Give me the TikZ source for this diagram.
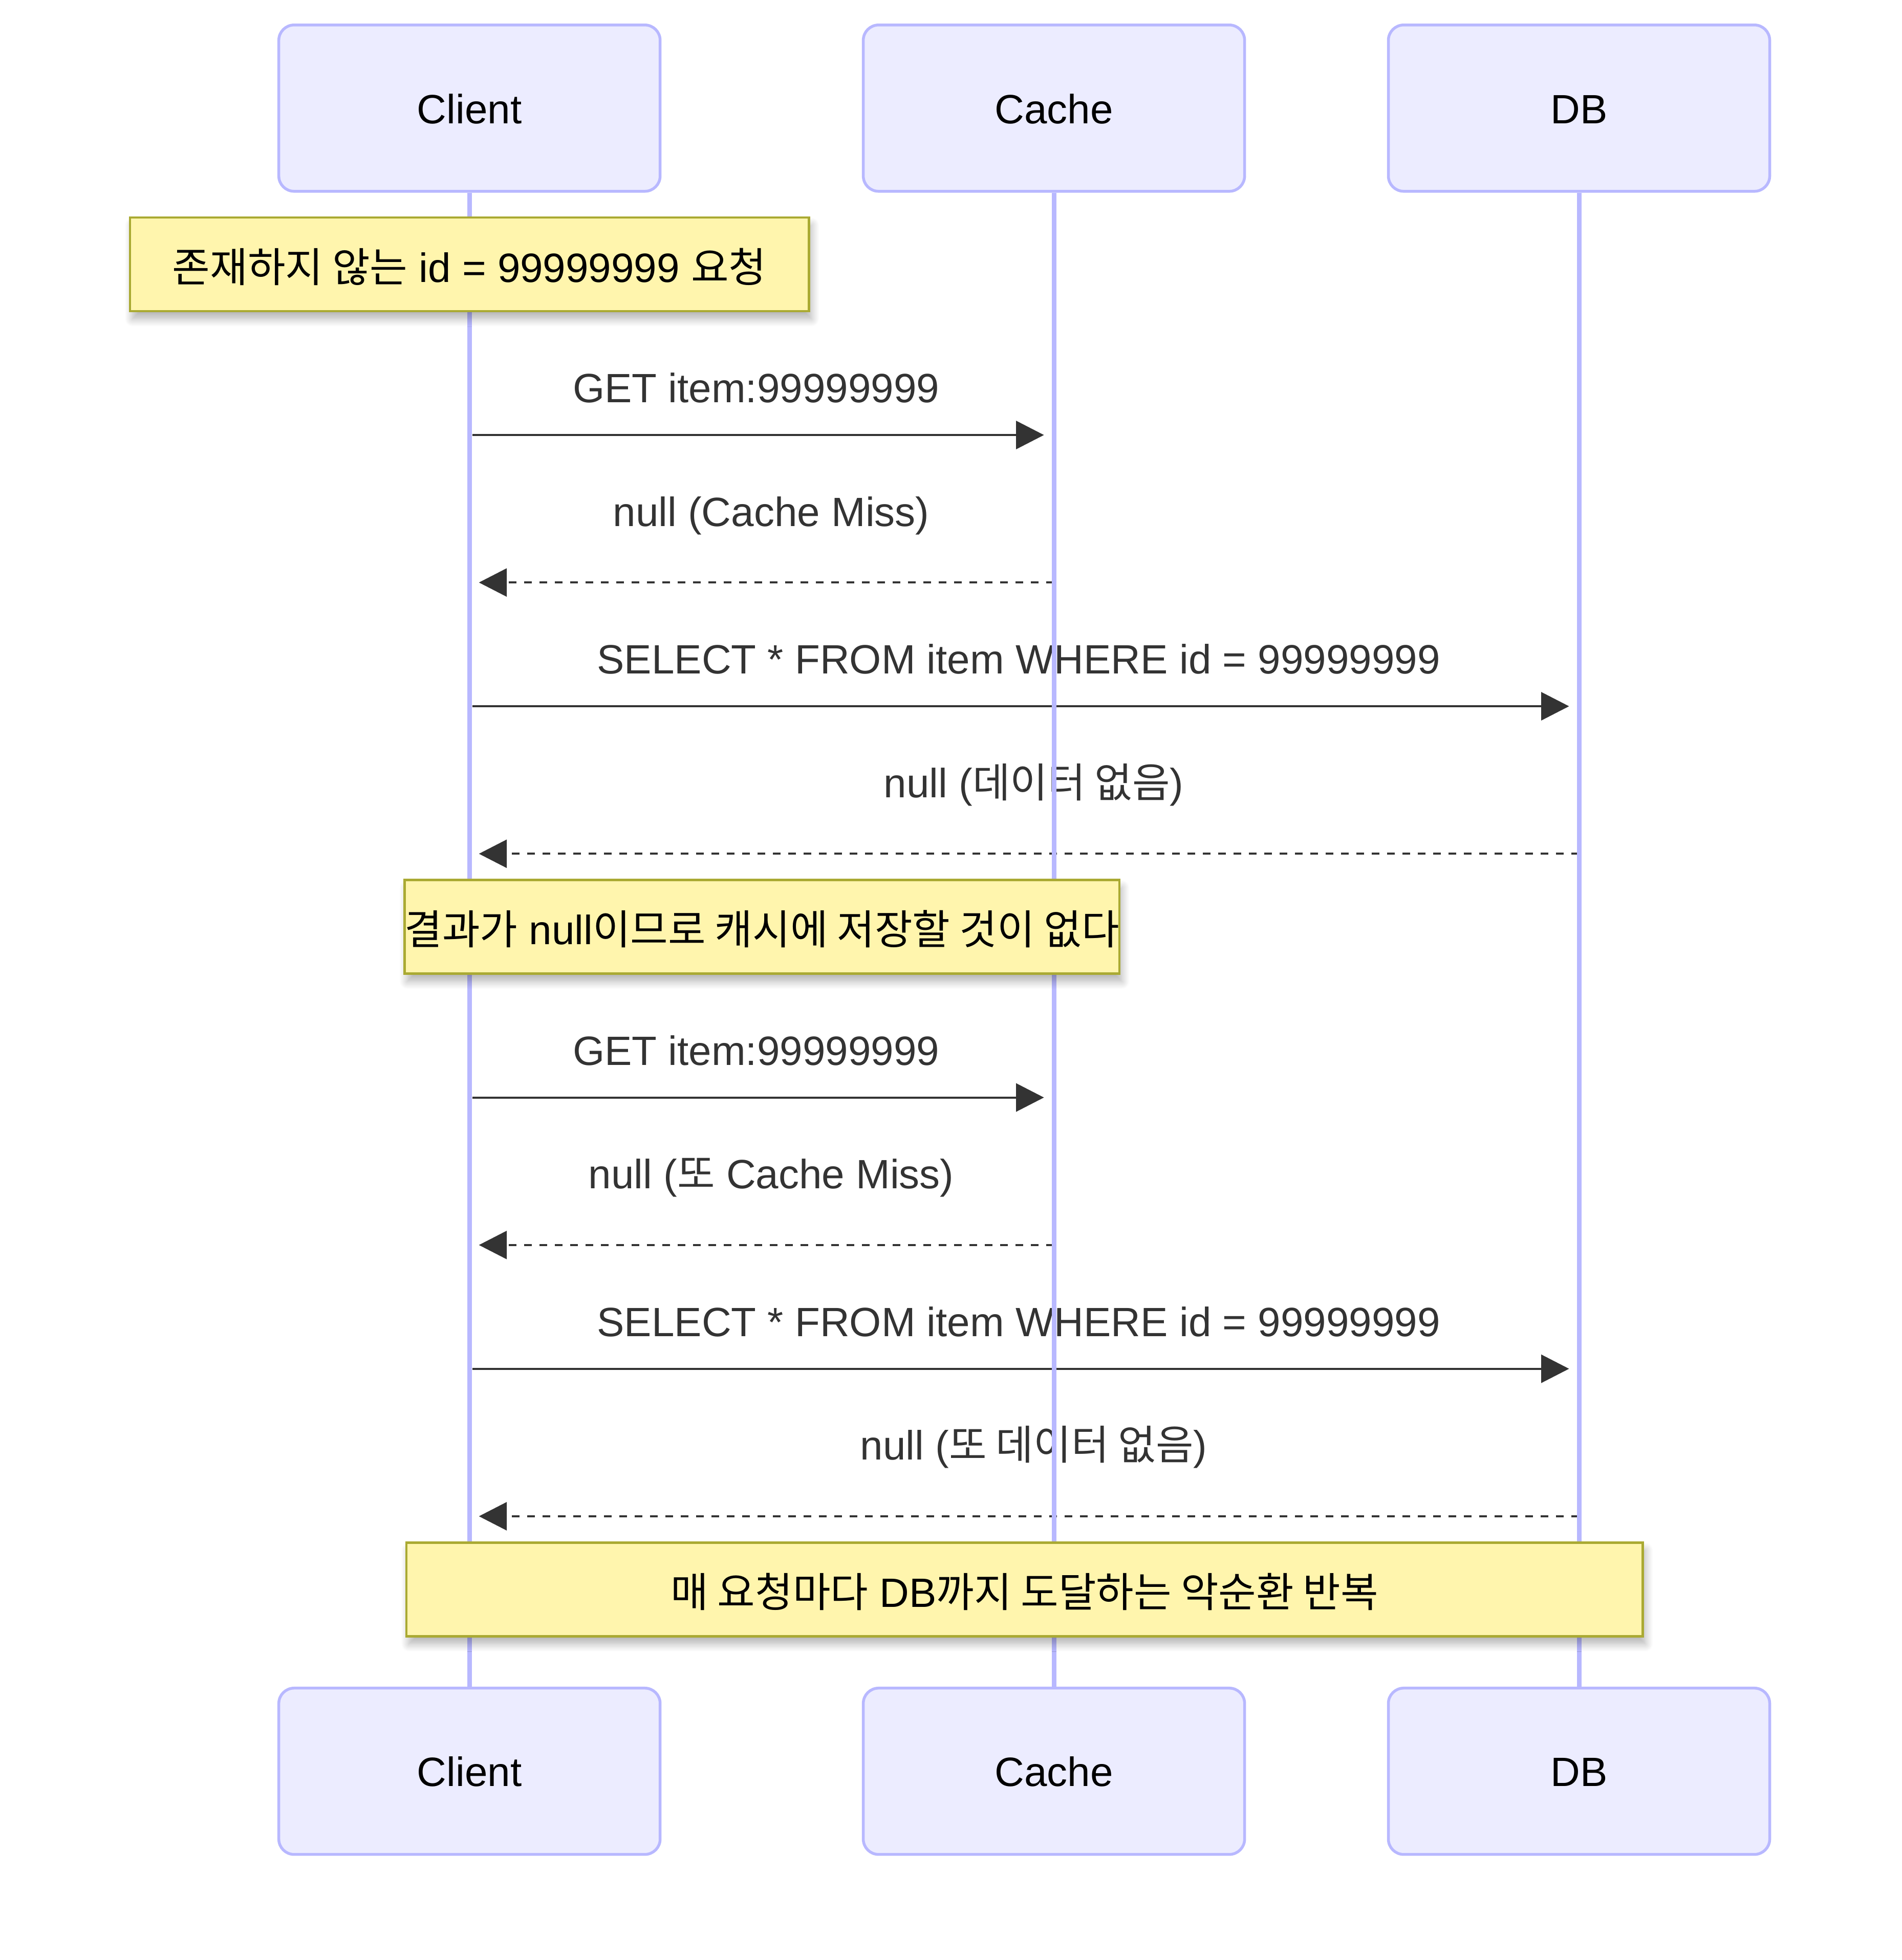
\documentclass[tikz,border=0pt]{standalone}
\usepackage{fontspec}
\setmainfont{Liberation Sans}
\newfontfamily\krfont{Noto Sans CJK KR}
\newcommand{\kr}[1]{{\krfont #1}}
\usetikzlibrary{arrows.meta,shadows.blur}

\definecolor{actorfill}{HTML}{ECECFF}
\definecolor{actorline}{HTML}{B8B8FF}
\definecolor{notefill}{HTML}{FFF5AD}
\definecolor{noteline}{HTML}{AAAA33}
\definecolor{msgtext}{HTML}{333333}

\tikzset{
  actor/.style={draw=actorline, fill=actorfill, line width=1.1pt, rounded corners=6pt,
    minimum width=149pt, minimum height=65pt, inner sep=0pt, text height=11.9pt, text depth=0pt},
  note/.style={draw=noteline, fill=notefill, line width=0.9pt, minimum height=36.6pt,
    inner sep=0pt, text height=13.9pt, text depth=0pt,
    blur shadow={shadow xshift=1pt, shadow yshift=-3pt, shadow blur radius=3pt,
      shadow blur steps=10, shadow opacity=30}},
  lifeline/.style={draw=actorline, line width=1.8pt},
  call/.style={draw=msgtext, line width=0.75pt, -{Triangle[length=10.9pt, width=11pt]},
    shorten <=1.2pt, shorten >=3.9pt},
  reply/.style={call, dash pattern=on 3pt off 3pt, shorten <=0pt, shorten >=3.7pt},
  msglabel/.style={text=msgtext, anchor=base, inner sep=0pt}
}

\begin{document}
\begin{tikzpicture}[x=0.4885pt, y=-0.4885pt, font=\fontsize{16}{19.2}\selectfont]
\useasboundingbox (0,0) rectangle (1521,1568);

  \foreach \n/\x/\t in {cl/375.5/Client, ca/843/Cache, db/1263/DB} {%
    % top and bottom
    \node[actor] (\n) at (\x,86.5) {\t};
    \node[actor] (\n2) at (\x,1417) {\t};
  }

  \foreach \y/\a/\b/\t in {348/cl/ca/{GET item:99999999},
      565/cl/db/{SELECT * FROM item WHERE id = 99999999},
      878/cl/ca/{GET item:99999999},
      1095/cl/db/{SELECT * FROM item WHERE id = 99999999}} {%
    \draw[call] (\a.south |- 0,\y) -- node[msglabel, xshift=-2.2pt, yshift=12.7pt] (m\y) {\t} (\b.south |- 0,\y);
  }

  \foreach \y/\a/\t in {466/ca/{null (Cache Miss)},
      683/db/{null (\kr{데이터 없음})},
      996/ca/{null (\kr{또} Cache Miss)},
      1213/db/{null (\kr{또 데이터 없음})}} {%
    \draw[reply] (\a.south |- 0,\y) -- node[msglabel, xshift=3.7pt, yshift=22pt] (m\y) {\t} (cl.south |- 0,\y);
  }

  \foreach \n in {cl, ca, db}
    \draw[lifeline] (\n.south) -- (\n2.north);

  \node[note, minimum width=265.3pt] (n1) at (375.5,211.5) {\kr{존재하지 않는} id = 99999999 \kr{요청}};
  \node[note, minimum width=278pt] (n2) at (609.5,741.5) {\kr{결과가} null\kr{이므로 캐시에 저장할 것이 없다}};
  \node[note, minimum width=483.1pt] (n3) at (819.5,1271.5) {\kr{매 요청마다} DB\kr{까지 도달하는 악순환 반복}};
\end{tikzpicture}
\end{document}
